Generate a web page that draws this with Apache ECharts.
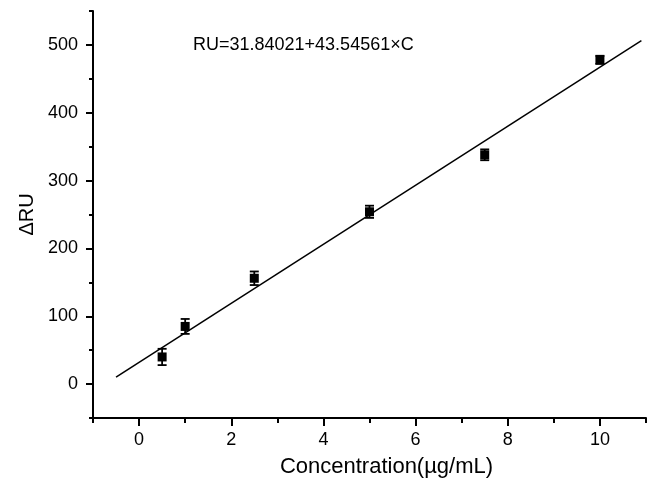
<!DOCTYPE html>
<html>
<head>
<meta charset="utf-8">
<script src="https://cdn.jsdelivr.net/npm/echarts@6/dist/echarts.min.js"></script>
<style>
  html, body { margin: 0; padding: 0; background: #fff; }
  #chart { width: 649px; height: 478px; }
</style>
</head>
<body>
<div id="chart"></div>
<script>
// measured points
var concX = [0.5, 1, 2.5, 5, 7.5, 10];
var deltaRU = [40, 85, 156, 254, 338, 478];
var errRU = [12, 11, 10, 9, 8, 6];

// fitted line end points (RU = 31.84021 + 43.54561*C)
var fitX = [-0.5, 10.9];
var fitY = [10.1, 506.5];

// tick positions
var xMajor = [0, 2, 4, 6, 8, 10];
var xMinor = [-1, 1, 3, 5, 7, 9, 11];
var yMajor = [0, 100, 200, 300, 400, 500];
var yMinor = [-50, 50, 150, 250, 350, 450, 550];

var eqText = 'RU=31.84021+43.54561\u00d7C';

var font = 'Liberation Sans, Arial, sans-serif';
var tickStyle = { color: '#000', width: 2 };

var chart = echarts.init(document.getElementById('chart'));

var option = {
  animation: false,
  backgroundColor: '#fff',
  grid: { left: 93, right: 3, top: 11, bottom: 60, outerBoundsMode: 'none', containLabel: false },
  xAxis: [{
    type: 'value',
    min: -1, max: 11, interval: 1,
    name: 'Concentration(\u00b5g/mL)',
    nameLocation: 'middle',
    nameGap: 38,
    nameTextStyle: { fontFamily: font, fontSize: 22, color: '#000', padding: [0, 0, 0, 34] },
    axisLine: { onZero: false, lineStyle: { color: '#000', width: 2 } },
    axisTick: { inside: false, length: 8, customValues: xMajor, lineStyle: tickStyle },
    axisLabel: { fontFamily: font, fontSize: 18, color: '#000', margin: 13, customValues: xMajor },
    splitLine: { show: false }
  }, {
    type: 'value',
    position: 'bottom',
    min: -1, max: 11, interval: 1,
    axisLine: { show: false, onZero: false },
    axisTick: { inside: false, length: 5, customValues: xMinor, lineStyle: tickStyle },
    axisLabel: { show: false },
    splitLine: { show: false }
  }],
  yAxis: [{
    type: 'value',
    min: -50, max: 550, interval: 50,
    name: '\u0394RU',
    nameLocation: 'middle',
    nameGap: 56,
    nameTextStyle: { fontFamily: font, fontSize: 20, color: '#000' },
    axisLine: { onZero: false, lineStyle: { color: '#000', width: 2 } },
    axisTick: { inside: false, length: 7, customValues: yMajor, lineStyle: tickStyle },
    axisLabel: { fontFamily: font, fontSize: 18, color: '#000', margin: 15, customValues: yMajor },
    splitLine: { show: false }
  }, {
    type: 'value',
    position: 'left',
    min: -50, max: 550, interval: 50,
    axisLine: { show: false, onZero: false },
    axisTick: { inside: false, length: 4, customValues: yMinor, lineStyle: tickStyle },
    axisLabel: { show: false },
    splitLine: { show: false }
  }],
  graphic: [{
    type: 'text',
    left: 193, top: 36,
    style: { text: eqText, fontFamily: font, fontSize: 18, fill: '#000' }
  }],
  series: [
    {
      name: 'fit',
      type: 'line',
      data: fitX.map(function (x, i) { return [x, fitY[i]]; }),
      showSymbol: false,
      lineStyle: { color: '#000', width: 1.5 },
      z: 2
    },
    {
      name: 'error',
      type: 'custom',
      data: concX.map(function (x, i) { return [x, deltaRU[i] - errRU[i], deltaRU[i] + errRU[i]]; }),
      renderItem: function (params, api) {
        var lo = api.coord([api.value(0), api.value(1)]);
        var hi = api.coord([api.value(0), api.value(2)]);
        var w = 4.5;
        var st = { stroke: '#000', lineWidth: 1.8 };
        return {
          type: 'group',
          children: [
            { type: 'line', shape: { x1: hi[0], y1: hi[1], x2: lo[0], y2: lo[1] }, style: st },
            { type: 'line', shape: { x1: hi[0] - w, y1: hi[1], x2: hi[0] + w, y2: hi[1] }, style: st },
            { type: 'line', shape: { x1: lo[0] - w, y1: lo[1], x2: lo[0] + w, y2: lo[1] }, style: st }
          ]
        };
      },
      z: 3
    },
    {
      name: 'data',
      type: 'scatter',
      symbol: 'rect',
      symbolSize: 9,
      data: concX.map(function (x, i) { return [x, deltaRU[i]]; }),
      itemStyle: { color: '#000', opacity: 1 },
      z: 4
    }
  ]
};

chart.setOption(option);
</script>
</body>
</html>
